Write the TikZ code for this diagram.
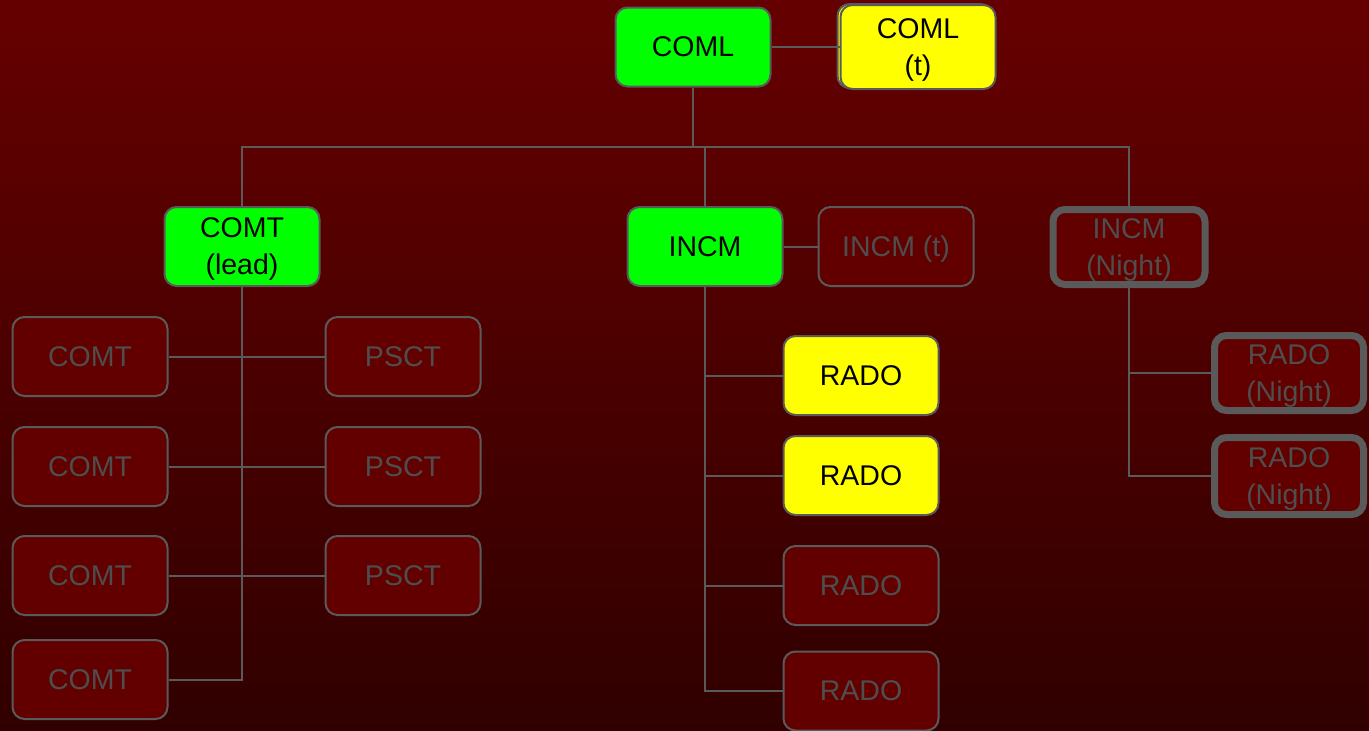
\documentclass[tikz,border=0pt]{standalone}
\usepackage{fontspec}
\setmainfont{Liberation Sans}
\usepackage{xcolor}
\usetikzlibrary{shapes,positioning,calc,shadows}

\definecolor{bgtop}{RGB}{102,0,0}
\definecolor{bgbot}{RGB}{48,0,0}
\definecolor{boxfill}{RGB}{98,0,0}
\definecolor{boxline}{RGB}{90,90,90}
\definecolor{dimtext}{RGB}{78,78,78}
\definecolor{onlime}{RGB}{0,255,0}
\definecolor{onyellow}{RGB}{255,255,0}

\begin{document}
\begin{tikzpicture}[
        x=1pt, y=-1pt,
        box/.style={rectangle, draw=boxline, line width=2pt, rounded corners=12pt, minimum width=155pt, minimum height=79pt, inner sep=0pt, align=center, font=\fontsize{28.5}{37}\selectfont},
        flat/.style={text depth=0pt},
        active/.style={box, fill=onlime, text=black},
        standby/.style={box, fill=onyellow, text=black},
        idle/.style={box, fill=boxfill, text=dimtext},
        night/.style={idle, flat, line width=7pt, minimum width=152pt, minimum height=75pt},
        link/.style={draw=boxline, line width=2pt}
    ]
        \useasboundingbox (0,0) rectangle (1369,731);
        \clip (0,0) rectangle (1369,731);
        \shade[top color=bgtop, bottom color=bgbot] (0,0) rectangle (1369,731);

        % Nodes
        \node[active] (coml) at (693,47) {COML};
        \node[standby, flat, minimum height=84pt, copy shadow={shadow xshift=-3pt, shadow yshift=1pt}] (comlt) at (918,47) {COML\\(t)};
        \node[active, flat] (lead) at (242,246.5) {COMT\\(lead)};
        \node[active] (incm) at (705,246.5) {INCM};
        \node[idle, flat] (incmt) at (896,246.5) {INCM (t)};
        \node[night] (nincm) at (1129,247) {INCM\\(Night)};

        \node[idle] (comt1) at (90,356.5) {COMT};
        \node[idle] (comt2) at (90,466.5) {COMT};
        \node[idle] (comt3) at (90,575.5) {COMT};
        \node[idle] (comt4) at (90,679.5) {COMT};
        \node[idle] (psct1) at (403,356.5) {PSCT};
        \node[idle] (psct2) at (403,466.5) {PSCT};
        \node[idle] (psct3) at (403,575.5) {PSCT};

        \node[standby] (rado1) at (861,375.5) {RADO};
        \node[standby] (rado2) at (861,475.5) {RADO};
        \node[idle] (rado3) at (861,585.5) {RADO};
        \node[idle] (rado4) at (861,691) {RADO};

        \node[night, minimum width=149pt] (nrado1) at (1289,373) {RADO\\(Night)};
        \node[night, minimum width=149pt, minimum height=77pt] (nrado2) at (1289,476) {RADO\\(Night)};

        % Lines
        \coordinate (bus) at (693,147);
        \draw[link] (coml) -- (comlt);
        \draw[link] (coml) -- (bus);
        \draw[link] (lead.north) |- (bus) -| (nincm.north);
        \draw[link] (incm.north) -- (incm.north |- bus);
        \draw[link] (incm) -- (incmt);

        \draw[link] (lead.south) |- (comt4.east);
        \draw[link] (comt1) -- (psct1);
        \draw[link] (comt2) -- (psct2);
        \draw[link] (comt3) -- (psct3);

        \draw[link] (incm.south) |- (rado4.west);
        \foreach \r in {rado1,rado2,rado3}
            \draw[link] (incm.south |- \r.west) -- (\r.west);

        \draw[link] (nincm.south) |- (nrado2.west);
        \draw[link] (nincm.south |- nrado1.west) -- (nrado1.west);
    \end{tikzpicture}
\end{document}
